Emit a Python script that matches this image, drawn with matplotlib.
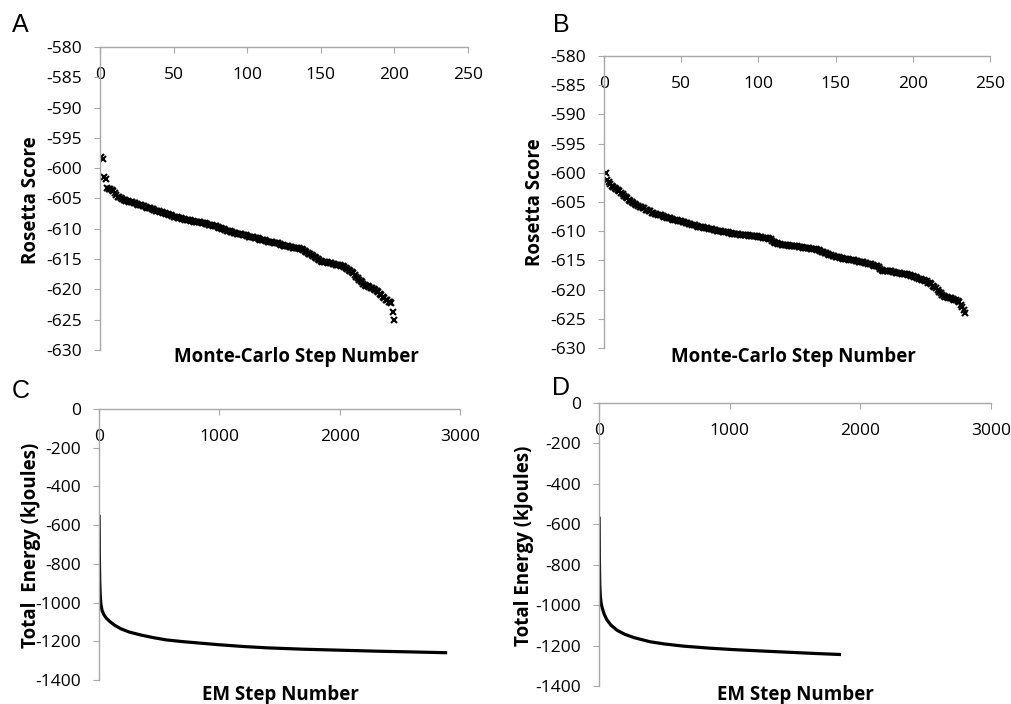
import matplotlib
matplotlib.use("Agg")
import matplotlib.pyplot as plt

plt.rcParams["font.family"] = ["Open Sans", "DejaVu Sans"]
plt.rcParams["axes.unicode_minus"] = False

# Panel A: Rosetta score per Monte-Carlo step (steps 1..200)
score_a = [
    -598.2, -598.5, -601.5, -601.8, -603.2, -603.4, -603.5, -603.6, -603.8, -604.1,
    -604.4, -604.7, -604.8, -605.0, -605.1, -605.2, -605.3, -605.4, -605.4, -605.5,
    -605.5, -605.6, -605.7, -605.8, -605.9, -606.0, -606.0, -606.1, -606.2, -606.3,
    -606.4, -606.5, -606.6, -606.6, -606.7, -606.8, -606.9, -607.0, -607.0, -607.1,
    -607.2, -607.3, -607.4, -607.4, -607.5, -607.6, -607.7, -607.8, -607.9, -608.0,
    -608.1, -608.1, -608.2, -608.3, -608.3, -608.4, -608.4, -608.5, -608.5, -608.6,
    -608.6, -608.7, -608.7, -608.8, -608.8, -608.8, -608.9, -608.9, -609.0, -609.0,
    -609.1, -609.2, -609.2, -609.3, -609.4, -609.4, -609.5, -609.6, -609.6, -609.7,
    -609.8, -609.9, -610.0, -610.1, -610.2, -610.3, -610.4, -610.4, -610.5, -610.6,
    -610.7, -610.7, -610.8, -610.8, -610.9, -610.9, -611.0, -611.0, -611.1, -611.2,
    -611.3, -611.3, -611.4, -611.4, -611.5, -611.5, -611.6, -611.7, -611.8, -611.8,
    -611.9, -611.9, -612.0, -612.1, -612.1, -612.2, -612.2, -612.3, -612.3, -612.4,
    -612.4, -612.5, -612.6, -612.7, -612.8, -612.8, -612.9, -612.9, -613.0, -613.0,
    -613.1, -613.1, -613.1, -613.2, -613.2, -613.3, -613.3, -613.5, -613.7, -613.8,
    -614.0, -614.1, -614.2, -614.4, -614.5, -614.6, -614.8, -615.0, -615.2, -615.3,
    -615.4, -615.4, -615.5, -615.5, -615.6, -615.6, -615.7, -615.8, -615.8, -615.9,
    -615.9, -616.0, -616.0, -616.1, -616.2, -616.3, -616.5, -616.6, -616.8, -616.9,
    -617.1, -617.3, -617.6, -617.9, -618.2, -618.4, -618.6, -618.8, -619.1, -619.3,
    -619.4, -619.5, -619.6, -619.7, -619.8, -619.9, -620.1, -620.3, -620.4, -620.7,
    -621.0, -621.3, -621.5, -621.7, -621.8, -622.0, -622.1, -622.3, -623.7, -625.1,
]
steps_a = list(range(1, len(score_a) + 1))

# Panel B: Rosetta score per Monte-Carlo step (steps 1..234)
score_b = [
    -600.0, -601.3, -601.6, -601.9, -602.2, -602.4, -602.6, -602.8, -603.0, -603.2,
    -603.5, -603.7, -603.9, -604.2, -604.4, -604.6, -604.8, -605.0, -605.2, -605.3,
    -605.5, -605.6, -605.8, -605.9, -606.0, -606.1, -606.3, -606.4, -606.5, -606.6,
    -606.8, -606.9, -607.0, -607.1, -607.2, -607.2, -607.3, -607.4, -607.5, -607.6,
    -607.7, -607.8, -607.8, -607.9, -608.0, -608.0, -608.1, -608.2, -608.2, -608.3,
    -608.4, -608.5, -608.6, -608.6, -608.7, -608.8, -608.9, -608.9, -609.0, -609.1,
    -609.2, -609.2, -609.3, -609.3, -609.4, -609.4, -609.5, -609.6, -609.6, -609.7,
    -609.8, -609.8, -609.9, -609.9, -610.0, -610.0, -610.1, -610.1, -610.2, -610.2,
    -610.3, -610.3, -610.4, -610.4, -610.5, -610.5, -610.5, -610.6, -610.6, -610.6,
    -610.7, -610.7, -610.7, -610.8, -610.8, -610.8, -610.9, -610.9, -610.9, -611.0,
    -611.0, -611.0, -611.1, -611.1, -611.1, -611.2, -611.3, -611.4, -611.6, -611.8,
    -612.0, -612.1, -612.2, -612.2, -612.3, -612.3, -612.3, -612.4, -612.4, -612.5,
    -612.5, -612.5, -612.6, -612.6, -612.6, -612.7, -612.7, -612.7, -612.8, -612.8,
    -612.8, -612.9, -612.9, -613.0, -613.0, -613.1, -613.1, -613.2, -613.3, -613.4,
    -613.5, -613.6, -613.7, -613.8, -613.9, -614.0, -614.1, -614.2, -614.3, -614.4,
    -614.5, -614.5, -614.6, -614.6, -614.7, -614.7, -614.8, -614.8, -614.9, -614.9,
    -615.0, -615.0, -615.1, -615.1, -615.2, -615.2, -615.3, -615.3, -615.4, -615.5,
    -615.6, -615.6, -615.7, -615.8, -615.9, -616.0, -616.0, -616.1, -616.4, -616.6,
    -616.8, -616.8, -616.8, -616.9, -616.9, -616.9, -617.0, -617.0, -617.1, -617.1,
    -617.2, -617.2, -617.3, -617.3, -617.4, -617.4, -617.5, -617.5, -617.6, -617.7,
    -617.8, -617.9, -618.0, -618.1, -618.2, -618.3, -618.4, -618.5, -618.6, -618.8,
    -618.9, -619.1, -619.4, -619.6, -619.8, -620.1, -620.4, -620.6, -620.9, -621.1,
    -621.2, -621.3, -621.4, -621.5, -621.5, -621.6, -621.7, -621.8, -621.9, -622.2,
    -622.6, -622.9, -623.5, -624.0,
]
steps_b = list(range(1, len(score_b) + 1))

# Panel C: total energy during energy minimisation
em_steps_c = [1, 3, 6, 10, 15, 25, 40, 60, 90, 130, 180, 250, 350, 450, 560,
              700, 850, 1000, 1200, 1400, 1700, 2000, 2300, 2600, 2880]
energy_c = [-555, -760, -890, -960, -1005, -1040, -1062, -1080, -1098, -1117,
            -1135, -1152, -1168, -1181, -1193, -1202, -1210, -1218, -1227,
            -1234, -1241, -1246, -1251, -1255, -1259]

# Panel D
em_steps_d = [1, 3, 6, 10, 16, 25, 40, 60, 90, 140, 200, 270, 390, 500, 650,
              850, 1030, 1250, 1450, 1650, 1840]
energy_d = [-570, -780, -900, -955, -990, -1015, -1045, -1072, -1098, -1125,
            -1145, -1161, -1181, -1192, -1203, -1213, -1220, -1227, -1233,
            -1239, -1244]

W, H = 1012, 704
fig = plt.figure(figsize=(W / 100, H / 100), dpi=100)


def box(x0, y0, x1, y1):
    # pixel box (top-left origin) -> figure fraction rect
    return [x0 / W, 1 - y1 / H, (x1 - x0) / W, (y1 - y0) / H]


def style(ax, xmax, xstep, ymin, ymax, ystep):
    ax.set_xlim(0, xmax)
    ax.set_ylim(ymin, ymax)
    ax.set_yticks(range(ymin, ymax + 1, ystep))
    for s in ["right", "bottom"]:
        ax.spines[s].set_visible(False)
    for s in ["left", "top"]:
        ax.spines[s].set_color("#a8a8a8")
        ax.spines[s].set_linewidth(1.0)
    ax.xaxis.tick_top()
    ax.set_xticks(range(0, xmax + 1, xstep))
    ax.tick_params(axis="x", direction="in", length=4, color="#a8a8a8",
                   pad=-26, labelsize=12.5)
    ax.tick_params(axis="y", direction="out", length=4, color="#a8a8a8",
                   pad=9, labelsize=12.5)


mk = dict(ls="none", marker="x", color="black", ms=5, mew=1.5)

axA = fig.add_axes(box(100, 47, 468, 350))
axA.plot(steps_a, score_a, **mk)
style(axA, 250, 50, -630, -580, 5)

axB = fig.add_axes(box(604, 56, 990, 348))
axB.plot(steps_b, score_b, **mk)
style(axB, 250, 50, -630, -580, 5)

axC = fig.add_axes(box(99, 409, 460, 680))
axC.plot(em_steps_c, energy_c, color="black", lw=2.3)
style(axC, 3000, 1000, -1400, 0, 200)

axD = fig.add_axes(box(599, 403, 991, 686))
axD.plot(em_steps_d, energy_d, color="black", lw=2.3)
style(axD, 3000, 1000, -1400, 0, 200)

# axis titles
tkw = dict(fontsize=13.5, fontweight="bold", ha="center", va="center")
fig.text(31 / W, 1 - 200 / H, "Rosetta Score", rotation=90, **tkw)
fig.text(535 / W, 1 - 202 / H, "Rosetta Score", rotation=90, **tkw)
fig.text(296 / W, 1 - 357 / H, "Monte-Carlo Step Number", **tkw)
fig.text(793 / W, 1 - 357 / H, "Monte-Carlo Step Number", **tkw)
fig.text(31 / W, 1 - 545 / H, "Total  Energy (kJoules)", rotation=90, **tkw)
fig.text(524 / W, 1 - 546 / H, "Total Energy (kJoules)", rotation=90, **tkw)
fig.text(280 / W, 1 - 695 / H, "EM Step Number", **tkw)
fig.text(795 / W, 1 - 695 / H, "EM Step Number", **tkw)

# panel letters
lkw = dict(fontsize=18, family="Liberation Sans", ha="center", va="center")
fig.text(20 / W, 1 - 25 / H, "A", **lkw)
fig.text(561 / W, 1 - 25 / H, "B", **lkw)
fig.text(21 / W, 1 - 391 / H, "C", **lkw)
fig.text(561 / W, 1 - 388 / H, "D", **lkw)

fig.savefig("out.png", dpi=100)
